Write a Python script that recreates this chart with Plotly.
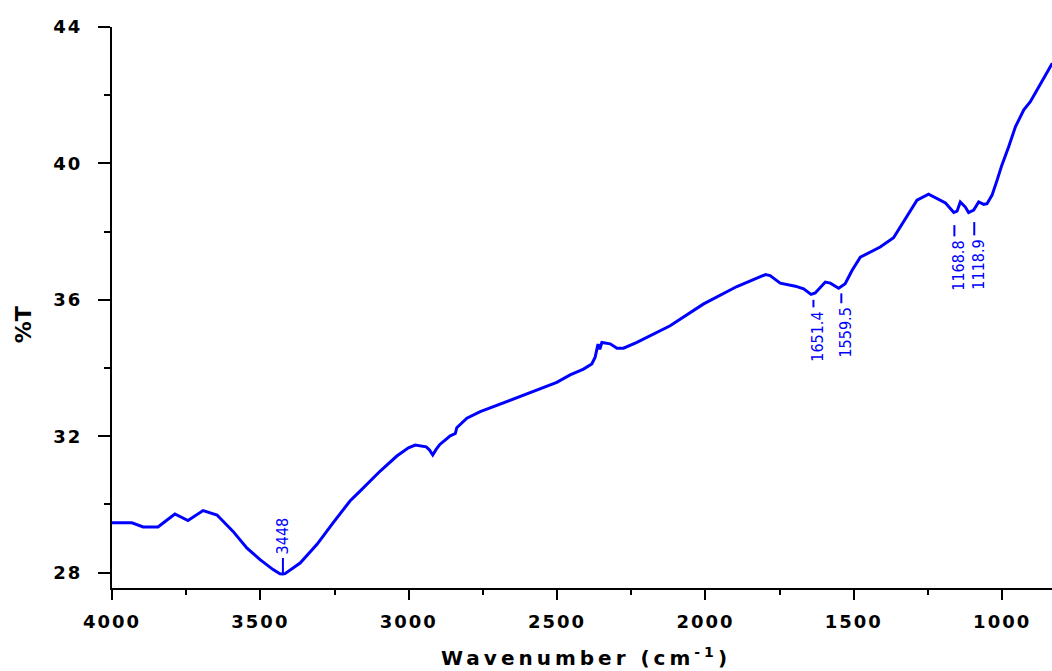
import plotly.graph_objects as go

# ---- data ----
wavenumber = [4000, 3933, 3895, 3845, 3821, 3788, 3744, 3693, 3646, 3592, 3545, 3501, 3457, 3434,
              3424, 3417, 3366, 3309, 3255, 3198, 3164, 3096, 3040, 3001, 2978, 2941, 2930, 2919,
              2907, 2895, 2860, 2843, 2838, 2804, 2759, 2669, 2580, 2501, 2456, 2411, 2383, 2372,
              2362, 2356, 2349, 2321, 2298, 2276, 2231, 2119, 2006, 1894, 1798, 1782, 1748, 1697,
              1669, 1644, 1630, 1596, 1579, 1551, 1529, 1506, 1478, 1444, 1411, 1366, 1321, 1287,
              1248, 1219, 1191, 1163, 1152, 1141, 1124, 1113, 1096, 1079, 1062, 1051, 1034, 1017,
              1001, 978, 955, 927, 905, 882, 854, 831]
transmittance = [29.46, 29.46, 29.34, 29.34, 29.50, 29.72, 29.53, 29.82, 29.69, 29.21, 28.72, 28.38,
                 28.09, 27.97, 27.96, 27.97, 28.28, 28.83, 29.46, 30.10, 30.39, 30.98, 31.42, 31.66,
                 31.74, 31.69, 31.60, 31.45, 31.62, 31.76, 32.01, 32.08, 32.25, 32.53, 32.72, 33.02,
                 33.33, 33.58, 33.80, 33.97, 34.12, 34.31, 34.70, 34.55, 34.75, 34.71, 34.58, 34.58,
                 34.75, 35.24, 35.88, 36.39, 36.74, 36.71, 36.49, 36.40, 36.32, 36.16, 36.20, 36.52,
                 36.49, 36.34, 36.47, 36.86, 37.25, 37.40, 37.55, 37.82, 38.43, 38.92, 39.10, 38.97,
                 38.84, 38.56, 38.60, 38.87, 38.72, 38.56, 38.63, 38.87, 38.80, 38.82, 39.07, 39.51,
                 39.95, 40.49, 41.08, 41.57, 41.81, 42.16, 42.60, 42.94]

peak_labels = ["3448", "1651.4", "1559.5", "1168.8", "1118.9"]
peak_x = [3424, 1636, 1542, 1161, 1094]
peak_tick_top = [28.43, 36.00, 36.19, 38.19, 38.28]
peak_tick_bottom = [27.98, 35.78, 35.90, 37.86, 37.89]

x_tick_vals = [4000, 3500, 3000, 2500, 2000, 1500, 1000]
x_tick_labels = ["4000", "3500", "3000", "2500", "2000", "1500", "1000"]
y_tick_vals = [28, 32, 36, 40, 44]
y_tick_labels = ["28", "32", "36", "40", "44"]

x_title = "Wavenumber (cm<sup>-1</sup>)"
y_title = "%T"

BLUE = "#0000FF"
BOLD = "DejaVu Sans"
NARROW = "DejaVu Sans Condensed, Liberation Sans Narrow, Liberation Sans"


def spaced(t, px):
    return '<span style="letter-spacing:%spx">%s</span>' % (px, t)


fig = go.Figure()
fig.add_trace(go.Scatter(x=wavenumber, y=transmittance, mode="lines",
                         line=dict(color=BLUE, width=3), showlegend=False,
                         hoverinfo="skip"))

shapes = []
annotations = []
for lab, px, top, bot in zip(peak_labels, peak_x, peak_tick_top, peak_tick_bottom):
    shapes.append(dict(type="line", xref="x", yref="y", x0=px, x1=px, y0=bot, y1=top,
                       line=dict(color=BLUE, width=2)))
    if top < 30:
        annotations.append(dict(x=px, y=top, xref="x", yref="y", text=lab, textangle=-90,
                                showarrow=False, xanchor="center", yanchor="bottom", yshift=2,
                                font=dict(family=NARROW, size=16, color=BLUE)))
    else:
        annotations.append(dict(x=px, y=bot, xref="x", yref="y", text=lab, textangle=-90,
                                showarrow=False, xanchor="center", yanchor="top", yshift=-2,
                                xshift=4, font=dict(family=NARROW, size=16, color=BLUE)))

annotations.append(dict(x=0.504, y=-0.123, xref="paper", yref="paper",
                        text=spaced(x_title, 4), showarrow=False,
                        xanchor="center", yanchor="middle",
                        font=dict(family=BOLD, size=20, color="black", weight="bold")))
annotations.append(dict(x=-0.0947, y=0.47, xref="paper", yref="paper",
                        text=y_title, showarrow=False, textangle=-90,
                        xanchor="center", yanchor="middle",
                        font=dict(family=BOLD, size=22, color="black", weight="bold")))

fig.update_layout(
    width=1052, height=671,
    margin=dict(l=112, r=0, t=27, b=83),
    paper_bgcolor="white", plot_bgcolor="white",
    shapes=shapes, annotations=annotations,
    xaxis=dict(range=[4000, 832], showgrid=False, zeroline=False,
               showline=True, linecolor="black", linewidth=2,
               ticks="outside", ticklen=10, tickwidth=2, tickcolor="black",
               tickmode="array", tickvals=x_tick_vals,
               ticktext=[spaced(t, 2) for t in x_tick_labels],
               tickfont=dict(family=BOLD, size=18, color="black", weight="bold"),
               ticklabelstandoff=6,
               minor=dict(tickmode="linear", tick0=0, dtick=250, ticks="outside",
                          ticklen=5, tickwidth=2, tickcolor="black", showgrid=False)),
    yaxis=dict(range=[27.55, 44], showgrid=False, zeroline=False,
               showline=True, linecolor="black", linewidth=2,
               ticks="outside", ticklen=12, tickwidth=2, tickcolor="black",
               tickmode="array", tickvals=y_tick_vals,
               ticktext=[spaced(t, 2) for t in y_tick_labels],
               tickfont=dict(family=BOLD, size=18, color="black", weight="bold"),
               ticklabelstandoff=12,
               minor=dict(tickmode="linear", tick0=0, dtick=2, ticks="outside",
                          ticklen=6, tickwidth=2, tickcolor="black", showgrid=False)),
)

fig.write_html("out.html")
